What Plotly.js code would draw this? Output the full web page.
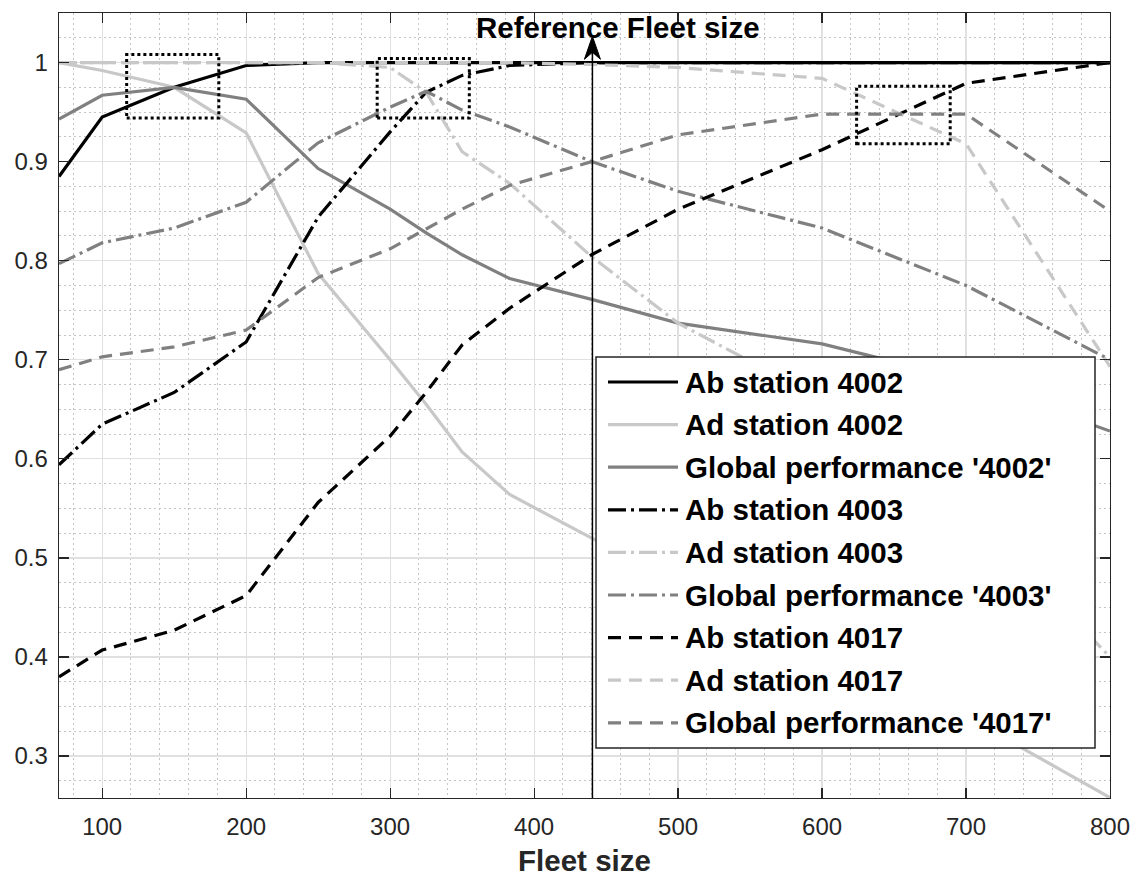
<!DOCTYPE html>
<html><head><meta charset="utf-8">
<script src="https://cdn.plot.ly/plotly-3.0.1.min.js"></script>
<style>html,body{margin:0;padding:0;background:#fff}#chart{width:1134px;height:877px}</style>
</head><body><div id="chart"></div>
<script>
// ---------- data ----------
const fleetSize = [70, 100, 150, 200, 250, 300, 325, 350, 383, 440, 500, 600, 700, 800];
const abStation4002  = [0.885, 0.945, 0.975, 0.997, 1.000, 1.000, 1.000, 1.000, 1.000, 1.000, 1.000, 1.000, 1.000, 1.000];
const adStation4002  = [1.000, 0.992, 0.975, 0.929, 0.787, 0.700, 0.655, 0.607, 0.564, 0.520, 0.478, 0.410, 0.340, 0.258];
const global4002     = [0.943, 0.967, 0.975, 0.963, 0.893, 0.852, 0.828, 0.806, 0.782, 0.761, 0.737, 0.716, 0.680, 0.628];
const abStation4003  = [0.594, 0.635, 0.667, 0.718, 0.844, 0.930, 0.970, 0.987, 0.997, 1.000, 1.000, 1.000, 1.000, 1.000];
const adStation4003  = [1.000, 1.000, 1.000, 1.000, 1.000, 0.995, 0.970, 0.910, 0.878, 0.804, 0.737, 0.660, 0.550, 0.400];
const global4003     = [0.797, 0.818, 0.833, 0.859, 0.919, 0.955, 0.971, 0.952, 0.935, 0.900, 0.870, 0.833, 0.775, 0.700];
const abStation4017  = [0.380, 0.407, 0.427, 0.462, 0.556, 0.623, 0.667, 0.715, 0.752, 0.806, 0.852, 0.912, 0.979, 1.000];
const adStation4017  = [1.000, 1.000, 1.000, 1.000, 1.000, 1.000, 1.000, 1.000, 1.000, 0.998, 0.995, 0.984, 0.918, 0.693];
const global4017     = [0.690, 0.703, 0.713, 0.730, 0.783, 0.812, 0.832, 0.852, 0.876, 0.900, 0.927, 0.948, 0.948, 0.850];

const seriesNames = ["Ab station 4002", "Ad station 4002", "Global performance '4002'",
                     "Ab station 4003", "Ad station 4003", "Global performance '4003'",
                     "Ab station 4017", "Ad station 4017", "Global performance '4017'"];
const seriesValues = [abStation4002, adStation4002, global4002,
                      abStation4003, adStation4003, global4003,
                      abStation4017, adStation4017, global4017];

const xTickValues = [100, 200, 300, 400, 500, 600, 700, 800];
const yTickValues = [0.3, 0.4, 0.5, 0.6, 0.7, 0.8, 0.9, 1];
const referenceFleetSize = 440.5;
const referenceLabel = "Reference Fleet size";
const xAxisTitle = "Fleet size";
// highlighted regions [x0, x1, y0, y1]
const zoomBoxes = [[117, 181, 0.944, 1.008], [291, 355, 0.944, 1.004], [624, 689, 0.918, 0.976]];

// ---------- styles ----------
const BLACK = '#000000', LIGHT = '#c8c8c8', MID = '#808080';
const SOLID = 'solid', DASHDOT = '18px,5px,3px,5px', DASHED = '13px,8px';
const seriesColors = [BLACK, LIGHT, MID, BLACK, LIGHT, MID, BLACK, LIGHT, MID];
const seriesDashes = [SOLID, SOLID, SOLID, DASHDOT, DASHDOT, DASHDOT, DASHED, DASHED, DASHED];
const LW = 3.2;
const FONT = 'Liberation Sans, Arial, Helvetica, sans-serif';
const AXC = '#262626';

const traces = seriesValues.map((vals, i) => ({
  type: 'scatter', mode: 'lines', x: fleetSize, y: vals, name: seriesNames[i],
  line: {color: seriesColors[i], dash: seriesDashes[i], width: LW}, showlegend: false,
  hoverinfo: 'x+y+name'
}));

// plot area in pixels
const W = 1134, H = 877, L = 59, R = 1110, T = 13, B = 798;
const px2x = p => (p - L) / (R - L);
const py2y = p => (B - p) / (B - T);

const yMin = 0.2577, yMax = 1.05;

const shapes = [];
zoomBoxes.forEach(b => shapes.push({type: 'rect', xref: 'x', yref: 'y', x0: b[0], x1: b[1], y0: b[2], y1: b[3],
  line: {color: '#000', width: 3, dash: 'dot'}, fillcolor: 'rgba(0,0,0,0)', layer: 'above'}));
// reference line + arrowhead
shapes.push({type: 'line', xref: 'x', yref: 'y', x0: referenceFleetSize, x1: referenceFleetSize, y0: yMin, y1: 1.02,
  line: {color: '#000', width: 1.5}, layer: 'above'});
shapes.push({type: 'path', xref: 'x', yref: 'y', xsizemode: 'pixel', ysizemode: 'pixel',
  xanchor: referenceFleetSize, yanchor: 1.0265, path: 'M0,0L-8,-23L0,-16L8,-23Z',
  fillcolor: '#000', line: {color: '#000', width: 1}, layer: 'above'});
// legend box
shapes.push({type: 'rect', xref: 'paper', yref: 'paper', x0: px2x(596), x1: px2x(1095), y0: py2y(748), y1: py2y(357),
  fillcolor: '#ffffff', line: {color: AXC, width: 1.5}, layer: 'above'});
const annotations = [];
seriesNames.forEach((n, i) => {
  const yy = py2y(382 + i * 42.6);
  shapes.push({type: 'line', xref: 'paper', yref: 'paper', x0: px2x(608), x1: px2x(678), y0: yy, y1: yy,
    line: {color: seriesColors[i], dash: seriesDashes[i], width: LW}, layer: 'above'});
  annotations.push({xref: 'paper', yref: 'paper', x: px2x(683), y: yy, xanchor: 'left', yanchor: 'middle',
    text: n, showarrow: false, font: {family: FONT, size: 29.5, color: '#000', weight: 'bold'}});
});
annotations.push({xref: 'x', yref: 'y', x: 458.5, y: 1.035, xanchor: 'center', yanchor: 'middle',
  text: referenceLabel, showarrow: false, font: {family: FONT, size: 29.5, color: '#000', weight: 'bold'}});

const layout = {
  width: W, height: H,
  margin: {l: L, r: W - R, t: T, b: H - B, pad: 0},
  paper_bgcolor: '#fff', plot_bgcolor: '#fff',
  font: {family: FONT, size: 24, color: AXC},
  showlegend: false,
  xaxis: {
    range: [70, 800], tickvals: xTickValues, ticktext: xTickValues.map(String),
    ticks: 'inside', ticklen: 10, tickwidth: 1.2, tickcolor: AXC, ticklabelstandoff: 7,
    showline: true, linecolor: AXC, linewidth: 1.3, mirror: 'ticks',
    showgrid: true, gridcolor: '#e0e0e0', gridwidth: 1.2, zeroline: false,
    minor: {dtick: 20, tick0: 0, showgrid: true, gridcolor: '#c4c4c4', griddash: '1.5px,3.5px', gridwidth: 1, ticks: ''},
    tickfont: {family: FONT, size: 24, color: AXC},
    title: {text: xAxisTitle, font: {family: FONT, size: 29.5, color: AXC, weight: 'bold'}, standoff: 16},
    automargin: false
  },
  yaxis: {
    range: [yMin, yMax], tickvals: yTickValues, ticktext: yTickValues.map(String),
    ticks: 'inside', ticklen: 10, tickwidth: 1.2, tickcolor: AXC, ticklabelstandoff: 5,
    showline: true, linecolor: AXC, linewidth: 1.3, mirror: 'ticks',
    showgrid: true, gridcolor: '#e0e0e0', gridwidth: 1.2, zeroline: false,
    minor: {dtick: 0.025, tick0: 0, showgrid: true, gridcolor: '#c4c4c4', griddash: '1.5px,3.5px', gridwidth: 1, ticks: ''},
    tickfont: {family: FONT, size: 24, color: AXC},
    automargin: false
  },
  shapes: shapes,
  annotations: annotations
};

Plotly.newPlot('chart', traces, layout, {displayModeBar: false, staticPlot: true});
</script>
</body></html>
